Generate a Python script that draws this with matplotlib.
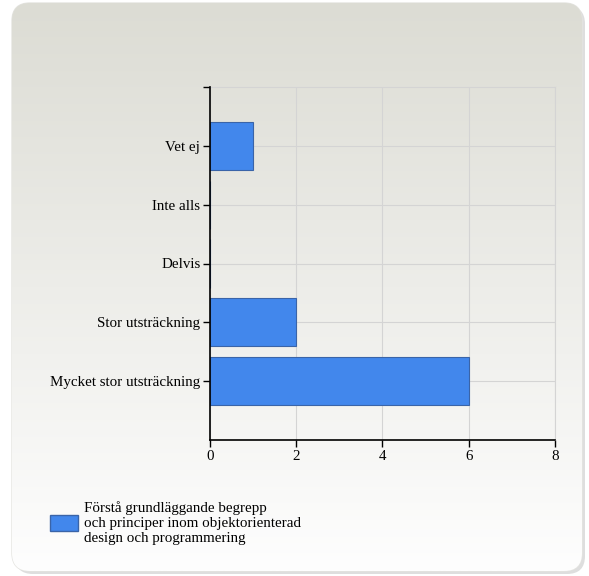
import numpy as np
import matplotlib.pyplot as plt
from matplotlib.patches import FancyBboxPatch, Patch

categories = ['Mycket stor utsträckning', 'Stor utsträckning', 'Delvis', 'Inte alls', 'Vet ej']
counts = [6, 2, 0, 0, 1]
xticks = [0, 2, 4, 6, 8]
legend_label = 'Förstå grundläggande begrepp\noch principer inom objektorienterad\ndesign och programmering'

plt.rcParams['font.family'] = ['Liberation Serif', 'DejaVu Serif']

W, H = 589, 576
fig = plt.figure(figsize=(W / 100, H / 100), dpi=100)
fig.patch.set_facecolor('white')

# background panel with vertical gradient and rounded corners
bg = fig.add_axes([0, 0, 1, 1])
bg.set_xlim(0, W)
bg.set_ylim(H, 0)
bg.axis('off')
shadow = FancyBboxPatch((15, 6), 570, 568, boxstyle='round,pad=0,rounding_size=18',
                        facecolor='#c8c8c8', edgecolor='none', alpha=0.6)
bg.add_patch(shadow)
panel = FancyBboxPatch((12, 3), 570, 568, boxstyle='round,pad=0,rounding_size=18',
                       facecolor='none', edgecolor='#e4e4e0', linewidth=1)
bg.add_patch(panel)
grad = np.linspace(0, 1, 256).reshape(-1, 1)
top = np.array([220, 220, 212]) / 255
bottom = np.array([254, 254, 254]) / 255
img = top + (bottom - top) * grad[..., None]
im = bg.imshow(img, extent=[12, 582, 571, 3], aspect='auto', zorder=1)
im.set_clip_path(panel)

# plot area
ax = fig.add_axes([210 / W, 1 - 440 / H, (555 - 210) / W, (440 - 87) / H])
ax.patch.set_alpha(0)
y = np.arange(len(categories))
ax.barh(y, counts, height=0.82, color='#4287ec', edgecolor='#3a64a8', linewidth=0.8, zorder=2)
ax.set_ylim(-1, len(categories))
ax.set_xlim(0, 8)
ax.set_yticks(y)
ax.set_yticklabels(categories, fontsize=10.8)
ax.set_yticks([len(categories)], minor=True)
ax.set_xticks(xticks)
ax.set_xticklabels([str(t) for t in xticks], fontsize=10.8)
ax.grid(True, color='#d4d4d4', linewidth=0.8, zorder=0)
for s in ['top', 'right']:
    ax.spines[s].set_color('#d4d4d4')
for s in ['left', 'bottom']:
    ax.spines[s].set_color('black')
    ax.spines[s].set_linewidth(1.2)
    ax.spines[s].set_zorder(3)
ax.tick_params(axis='both', which='both', direction='out', length=5, width=1, color='black', pad=2)

# legend
leg = fig.legend(handles=[Patch(facecolor='#4287ec', edgecolor='#3a64a8', label=legend_label)],
                 loc='center left', bbox_to_anchor=(36 / W, 1 - 523 / H), frameon=False,
                 fontsize=10.8, handlelength=1.9, handleheight=1.2, handletextpad=0.4,
                 labelspacing=0.2)

fig.savefig('out.png', dpi=100)
